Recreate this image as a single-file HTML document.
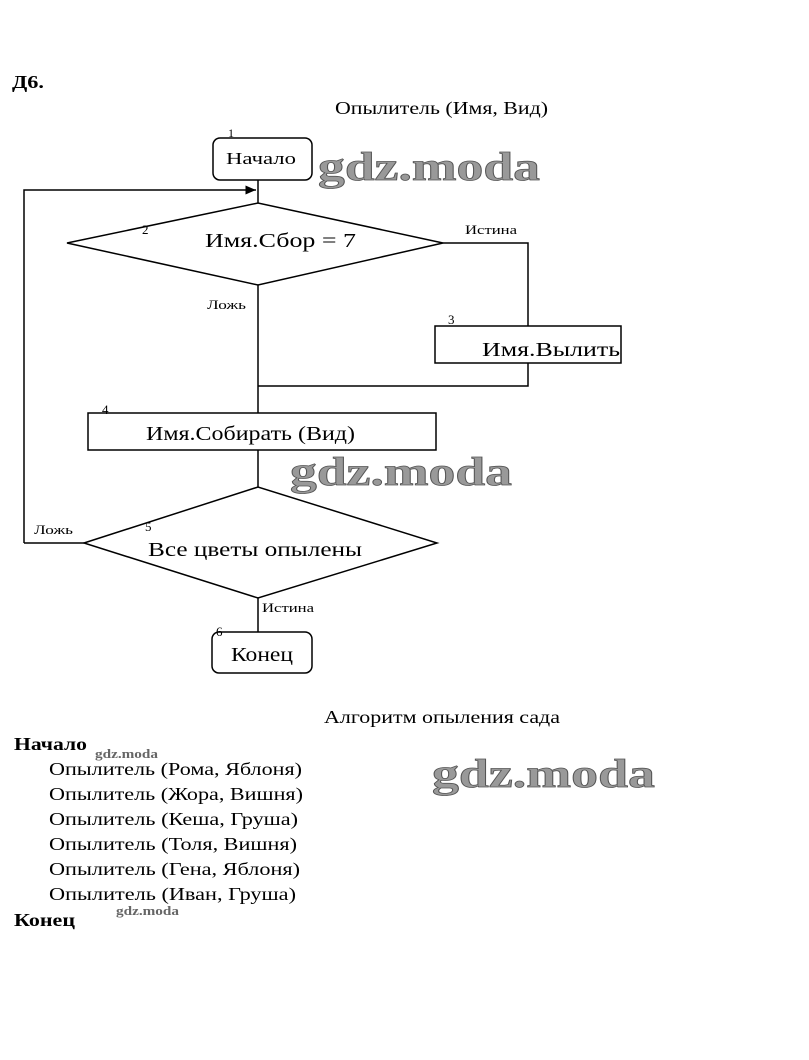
<!DOCTYPE html>
<html><head><meta charset="utf-8"><style>
body{margin:0;background:#fff;}
svg{display:block}
</style></head><body>
<svg width="809" height="1060" viewBox="0 0 809 1060" xmlns="http://www.w3.org/2000/svg" font-family="Liberation Serif, serif">
<defs><marker id="a" markerWidth="8" markerHeight="8" refX="7" refY="4" orient="auto"><path d="M0,1 L7,4 L0,7 z" fill="#000"/></marker></defs>
<g stroke="#000" stroke-width="1.5" fill="none">
<rect x="213" y="138" width="99" height="42" rx="7"/>
<line x1="258" y1="180" x2="258" y2="203"/>
<polyline points="24,543 24,190 256,190" marker-end="url(#a)"/>
<polygon points="67,243 258,203 443,243 258,285"/>
<polyline points="443,243 528,243 528,326"/>
<rect x="435" y="326" width="186" height="37"/>
<polyline points="528,363 528,386 258,386"/>
<line x1="258" y1="285" x2="258" y2="413"/>
<rect x="88" y="413" width="348" height="37"/>
<line x1="258" y1="450" x2="258" y2="487"/>
<polygon points="84,543 258,487 437,543 258,598"/>
<line x1="84" y1="543" x2="24" y2="543"/>
<line x1="258" y1="598" x2="258" y2="632"/>
<rect x="212" y="632" width="100" height="41" rx="7"/>
</g>
<g fill="#000" lengthAdjust="spacingAndGlyphs">
<text x="12" y="88" font-size="18" font-weight="bold" textLength="32" lengthAdjust="spacingAndGlyphs">Д6.</text>
<text x="335" y="114" font-size="18" textLength="213" lengthAdjust="spacingAndGlyphs">Опылитель (Имя, Вид)</text>
<text x="228" y="137" font-size="12">1</text>
<text x="226" y="164" font-size="17" textLength="70" lengthAdjust="spacingAndGlyphs">Начало</text>
<text x="142" y="234" font-size="13">2</text>
<text x="205" y="247" font-size="20" textLength="151" lengthAdjust="spacingAndGlyphs">Имя.Сбор = 7</text>
<text x="465" y="234" font-size="13" textLength="52" lengthAdjust="spacingAndGlyphs">Истина</text>
<text x="207" y="309" font-size="13" textLength="39" lengthAdjust="spacingAndGlyphs">Ложь</text>
<text x="448" y="324" font-size="13">3</text>
<text x="482" y="356" font-size="20" textLength="138" lengthAdjust="spacingAndGlyphs">Имя.Вылить</text>
<text x="102" y="414" font-size="13">4</text>
<text x="146" y="440" font-size="20" textLength="209" lengthAdjust="spacingAndGlyphs">Имя.Собирать (Вид)</text>
<text x="34" y="534" font-size="13" textLength="39" lengthAdjust="spacingAndGlyphs">Ложь</text>
<text x="145" y="531" font-size="13">5</text>
<text x="148" y="556" font-size="20" textLength="214" lengthAdjust="spacingAndGlyphs">Все цветы опылены</text>
<text x="262" y="612" font-size="13" textLength="52" lengthAdjust="spacingAndGlyphs">Истина</text>
<text x="216" y="636" font-size="13">6</text>
<text x="231" y="661" font-size="20" textLength="62" lengthAdjust="spacingAndGlyphs">Конец</text>
<text x="324" y="723" font-size="18" textLength="236" lengthAdjust="spacingAndGlyphs">Алгоритм опыления сада</text>
<text x="14" y="750" font-size="18" font-weight="bold" textLength="73" lengthAdjust="spacingAndGlyphs">Начало</text>
<text x="49" y="775" font-size="18" textLength="253" lengthAdjust="spacingAndGlyphs">Опылитель (Рома, Яблоня)</text>
<text x="49" y="800" font-size="18" textLength="254" lengthAdjust="spacingAndGlyphs">Опылитель (Жора, Вишня)</text>
<text x="49" y="825" font-size="18" textLength="249" lengthAdjust="spacingAndGlyphs">Опылитель (Кеша, Груша)</text>
<text x="49" y="850" font-size="18" textLength="248" lengthAdjust="spacingAndGlyphs">Опылитель (Толя, Вишня)</text>
<text x="49" y="875" font-size="18" textLength="251" lengthAdjust="spacingAndGlyphs">Опылитель (Гена, Яблоня)</text>
<text x="49" y="900" font-size="18" textLength="247" lengthAdjust="spacingAndGlyphs">Опылитель (Иван, Груша)</text>
<text x="14" y="926" font-size="18" font-weight="bold" textLength="61" lengthAdjust="spacingAndGlyphs">Конец</text>
</g>
<g fill="#999" stroke="#555" stroke-width="0.8" font-weight="bold" font-size="40">
<text x="318" y="180" textLength="222" lengthAdjust="spacingAndGlyphs">gdz.moda</text>
<text x="290" y="485" textLength="222" lengthAdjust="spacingAndGlyphs">gdz.moda</text>
<text x="432" y="787" textLength="223" lengthAdjust="spacingAndGlyphs">gdz.moda</text>
</g>
<g fill="#666" font-weight="bold" font-size="13">
<text x="95" y="758" textLength="63" lengthAdjust="spacingAndGlyphs">gdz.moda</text>
<text x="116" y="915" textLength="63" lengthAdjust="spacingAndGlyphs">gdz.moda</text>
</g>
</svg>
</body></html>
